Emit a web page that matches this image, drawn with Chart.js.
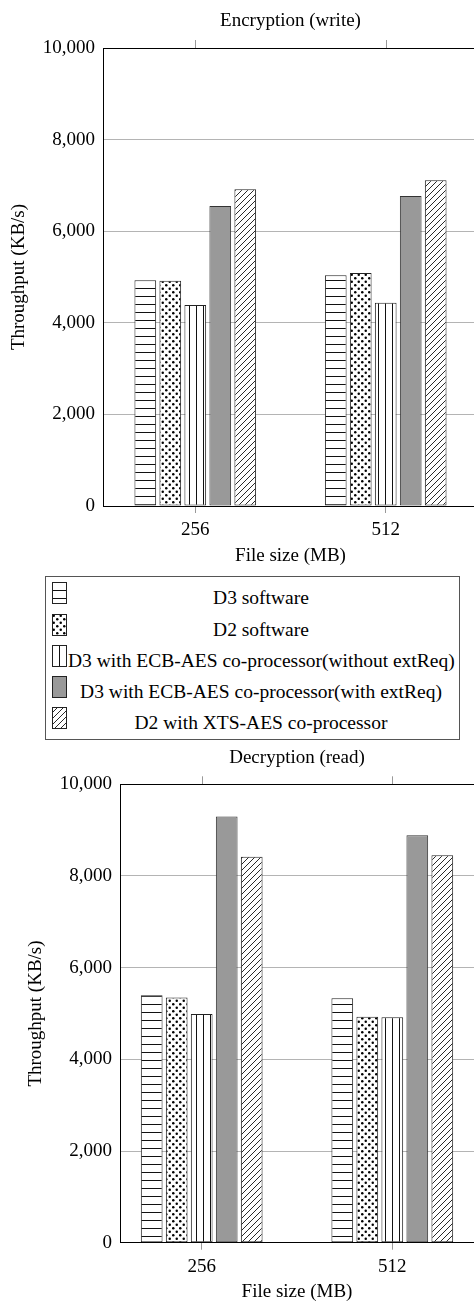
<!DOCTYPE html>
<html>
<head>
<meta charset="utf-8">
<script src="https://cdn.jsdelivr.net/npm/chart.js@4.4.0/dist/chart.umd.min.js"></script>
<style>
  html, body { margin: 0; padding: 0; background: #fff; }
  body { width: 474px; height: 1302px; overflow: hidden; position: relative; font-family: "Liberation Serif", serif; }
  #encChart { position: absolute; left: 0; top: 0; }
  #decChart { position: absolute; left: 0; top: 740px; }
  #legend { position: absolute; left: 45px; top: 576px; width: 413px; height: 162px; border: 1px solid #555; }
  .row canvas { position: absolute; left: 6px; }
  .row span { position: absolute; left: 22px; right: 5px; text-align: center; font-size: 19.5px; line-height: 20px; white-space: nowrap; color: #000; }
</style>
</head>
<body>
<canvas id="encChart" width="480" height="570"></canvas>
<div id="legend"></div>
<canvas id="decChart" width="476" height="565"></canvas>
<script>
// data
var categories = ["256", "512"];
var seriesNames = [
  "D3 software",
  "D2 software",
  "D3 with ECB-AES co-processor(without extReq)",
  "D3 with ECB-AES co-processor(with extReq)",
  "D2 with XTS-AES co-processor"
];
var encD3Soft   = [4930, 5040];
var encD2Soft   = [4920, 5090];
var encD3Ecb    = [4390, 4440];
var encD3EcbExt = [6550, 6770];
var encD2Xts    = [6915, 7110];

var decD3Soft   = [5400, 5330];
var decD2Soft   = [5350, 4930];
var decD3Ecb    = [4990, 4920];
var decD3EcbExt = [9300, 8890];
var decD2Xts    = [8420, 8450];

var yMin = 0, yMax = 10000, yStep = 2000;

Chart.defaults.font.family = "'Liberation Serif', 'Times New Roman', serif";
Chart.defaults.font.size = 19;
Chart.defaults.color = "#000";

var patternKinds = ["hlines", "dots", "vlines", "gray", "diag"];

function makePattern(kind) {
  var c = document.createElement("canvas");
  var x = c.getContext("2d");
  if (kind == "gray") return "#999999";
  if (kind == "hlines") {
    c.width = 8; c.height = 8;
    x.fillStyle = "#fff"; x.fillRect(0, 0, 8, 8);
    x.fillStyle = "#111"; x.fillRect(0, 0, 8, 1);
  } else if (kind == "vlines") {
    c.width = 7; c.height = 7;
    x.fillStyle = "#fff"; x.fillRect(0, 0, 7, 7);
    x.fillStyle = "#111"; x.fillRect(0, 0, 1, 7);
  } else if (kind == "dots") {
    c.width = 7; c.height = 7;
    x.fillStyle = "#fff"; x.fillRect(0, 0, 7, 7);
    x.fillStyle = "#000";
    x.beginPath(); x.arc(1.75, 1.75, 1.25, 0, Math.PI * 2); x.fill();
    x.beginPath(); x.arc(5.25, 5.25, 1.25, 0, Math.PI * 2); x.fill();
  } else if (kind == "diag") {
    c.width = 6; c.height = 6;
    x.fillStyle = "#fff"; x.fillRect(0, 0, 6, 6);
    x.strokeStyle = "#111"; x.lineWidth = 0.9;
    x.beginPath();
    x.moveTo(-1, 7); x.lineTo(7, -1);
    x.moveTo(-1, 1); x.lineTo(1, -1);
    x.moveTo(5, 7); x.lineTo(7, 5);
    x.stroke();
  }
  return x.createPattern(c, "repeat");
}

// box frame + mirrored ticks on top
var framePlugin = {
  id: "frame",
  afterDraw: function (chart) {
    var a = chart.chartArea, ctx = chart.ctx, xs = chart.scales.x;
    ctx.save();
    ctx.strokeStyle = "#999";
    ctx.lineWidth = 1;
    xs.ticks.forEach(function (t) {
      var px = Math.round(xs.getPixelForValue(t.value)) + 0.5;
      ctx.beginPath(); ctx.moveTo(px, a.top - 8); ctx.lineTo(px, a.top); ctx.stroke();
    });
    ctx.strokeStyle = "#000";
    ctx.beginPath();
    ctx.moveTo(Math.round(a.left) + 0.5, Math.round(a.top) + 0.5);
    ctx.lineTo(Math.round(a.right) + 0.5, Math.round(a.top) + 0.5);
    ctx.lineTo(Math.round(a.right) + 0.5, Math.round(a.bottom) + 0.5);
    ctx.stroke();
    ctx.restore();
  }
};

function makeChart(id, title, series, opt) {
  var datasets = series.map(function (vals, i) {
    var kind = patternKinds[i];
    return {
      label: seriesNames[i],
      data: categories.map(function (c, j) { return { x: j, y: vals[j] }; }),
      backgroundColor: makePattern(kind),
      borderColor: kind == "gray" ? "#333" : "#222",
      borderWidth: 1,
      borderSkipped: false,
      categoryPercentage: 0.656,
      barPercentage: 0.868
    };
  });
  return new Chart(id, {
    type: "bar",
    data: { datasets: datasets },
    plugins: [framePlugin],
    options: {
      responsive: false,
      animation: false,
      locale: "en-US",
      layout: { padding: { left: 0, right: 2, top: 0, bottom: 0 } },
      plugins: {
        legend: { display: false },
        tooltip: { enabled: false },
        title: {
          display: true, text: title, fullSize: false, color: "#000",
          font: { size: 19, weight: "normal" },
          padding: { top: opt.titleTop, bottom: opt.titleBottom }
        }
      },
      scales: {
        x: {
          type: "linear",
          offset: false,
          bounds: "data",
          min: opt.xMin, max: opt.xMax,
          afterFit: function (s) { s.height = opt.xHeight; },
          // one tick per category
          afterBuildTicks: function (s) {
            s.ticks = categories.map(function (c, i) { return { value: i }; });
          },
          ticks: {
            padding: 6, color: "#000", autoSkip: false, maxRotation: 0,
            callback: function (v) { return categories[v]; }
          },
          grid: { offset: false, drawOnChartArea: false, tickLength: 7, color: "#999" },
          border: { color: "#000", width: 1 },
          title: {
            display: true, text: "File size (MB)", color: "#000",
            font: { size: 19 }, padding: { top: 0, bottom: opt.xTitleBottom }
          }
        },
        y: {
          min: yMin, max: yMax,
          afterFit: function (s) { s.width = opt.yWidth; },
          ticks: {
            stepSize: yStep, padding: 8, color: "#000",
            callback: function (v) { return v.toLocaleString("en-US"); }
          },
          grid: { color: "#b4b4b4", drawTicks: false },
          border: { color: "#000", width: 1 },
          title: {
            display: true, text: "Throughput (KB/s)", color: "#000",
            font: { size: 19 }, padding: { top: opt.yTitleTop, bottom: 0 }
          }
        }
      }
    }
  });
}

makeChart("encChart", "Encryption (write)",
  [encD3Soft, encD2Soft, encD3Ecb, encD3EcbExt, encD2Xts],
  { xMin: -0.4845, xMax: 1.4845, xHeight: 64, xTitleBottom: 3, yWidth: 103, yTitleTop: 7.6, titleTop: 10, titleBottom: 15.2 });

makeChart("decChart", "Decryption (read)",
  [decD3Soft, decD2Soft, decD3Ecb, decD3EcbExt, decD2Xts],
  { xMin: -0.4287, xMax: 1.4287, xHeight: 62.3, xTitleBottom: 1.6, yWidth: 120, yTitleTop: 24.6, titleTop: 7.1, titleBottom: 14.4 });

// legend box between the two charts
var legend = document.getElementById("legend");
var rowCenters = [598, 629.5, 661, 692, 723];
seriesNames.forEach(function (name, i) {
  var row = document.createElement("div");
  row.className = "row";
  var rel = rowCenters[i] - 577;
  var pc = document.createElement("canvas");
  pc.width = 15; pc.height = 22;
  pc.style.top = (rel - 5 - 11) + "px";
  var px = pc.getContext("2d");
  px.fillStyle = makePattern(patternKinds[i]);
  px.fillRect(0, 0, 15, 22);
  px.strokeStyle = "#222";
  px.lineWidth = 1;
  px.strokeRect(0.5, 0.5, 14, 21);
  var sp = document.createElement("span");
  sp.textContent = name;
  sp.style.top = (rel - 10) + "px";
  row.appendChild(pc);
  row.appendChild(sp);
  legend.appendChild(row);
});
</script>
</body>
</html>
